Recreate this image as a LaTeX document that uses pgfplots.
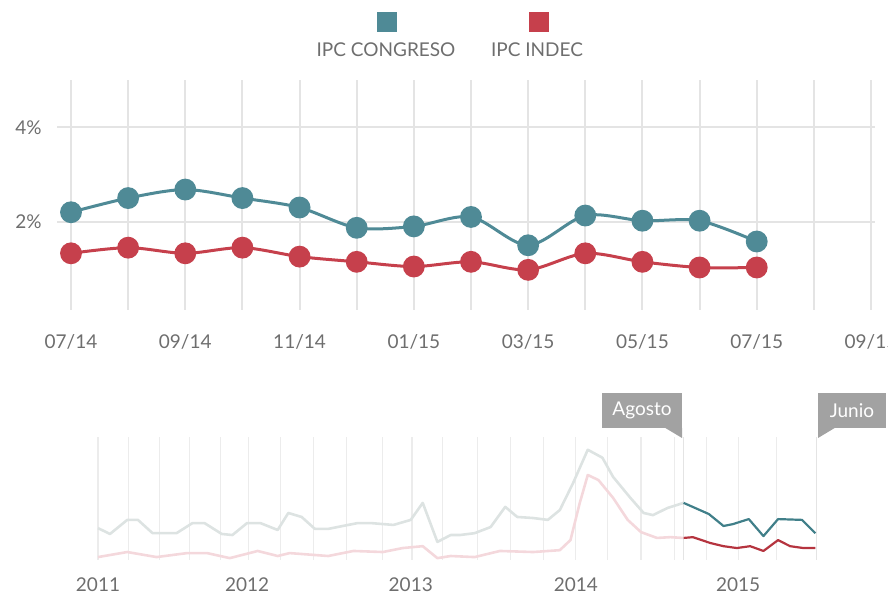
\documentclass[border=0pt]{standalone}
\usepackage{pgfplots}
\pgfplotsset{compat=1.18}
\usepackage{fontspec}
\setmainfont{Lato}
\definecolor{cteal}{HTML}{4F8A96}
\definecolor{cred}{HTML}{C6404C}
\definecolor{dteal}{HTML}{407F89}
\definecolor{dred}{HTML}{B5343F}
\definecolor{fteal}{HTML}{DDE3E2}
\definecolor{fred}{HTML}{F4D8DC}
\definecolor{gridc}{HTML}{E4E4E4}
\definecolor{ngridc}{HTML}{ECECEC}
\definecolor{txt}{HTML}{6E6E6E}
\definecolor{flagc}{HTML}{A2A2A2}
\begin{document}
\begin{tikzpicture}[x=1pt,y=1pt,font=\fontsize{9.5}{11}\selectfont]
\useasboundingbox (0pt,0pt) rectangle (444pt,299.5pt);
% legend
\fill[cteal] (188.5pt,283.5pt) rectangle (198.5pt,293.5pt);
\fill[cred] (264.5pt,283.5pt) rectangle (274.5pt,293.5pt);
\node[txt,inner sep=0pt] at (193pt,274.5pt) {IPC CONGRESO};
\node[txt,inner sep=0pt] at (268.5pt,274.5pt) {IPC INDEC};
% main chart
\begin{axis}[at={(28.5pt,144.5pt)}, anchor=south west, scale only axis,
  width=409pt, height=115pt,
  xmin=-0.245, xmax=14.07, ymin=0.13, ymax=5.0,
  axis line style={draw=none}, tick style={draw=none},
  xmajorgrids, ymajorgrids, grid style={gridc, line width=1pt},
  xtick={0,...,14},
  xticklabels={07/14,,09/14,,11/14,,01/15,,03/15,,05/15,,07/15,,09/15},
  ytick={2,4}, yticklabels={2\%,4\%},
  xticklabel style={txt, anchor=base, inner sep=0pt, yshift=-19.5pt},
  yticklabel style={txt, anchor=east, inner sep=0pt, xshift=-7.5pt},
  clip=false]
\addplot[cteal, line width=1.5pt, smooth, tension=0.5, mark=*, mark size=4.7pt,
  mark options={fill=cteal, draw=cteal}] coordinates {
  (0,2.2)(1,2.5)(2,2.68)(3,2.5)(4,2.3)(5,1.87)(6,1.9)(7,2.1)(8,1.5)(9,2.13)(10,2.02)(11,2.02)(12,1.58)};
\addplot[cred, line width=1.5pt, smooth, tension=0.5, mark=*, mark size=4.7pt,
  mark options={fill=cred, draw=cred}] coordinates {
  (0,1.33)(1,1.45)(2,1.33)(3,1.45)(4,1.26)(5,1.15)(6,1.05)(7,1.15)(8,0.98)(9,1.33)(10,1.15)(11,1.03)(12,1.03)};
\end{axis}
% navigator
\begin{axis}[at={(49pt,19.5pt)}, anchor=south west, scale only axis,
  width=360pt, height=61.5pt,
  xmin=0, xmax=54.1, ymin=0.57, ymax=5.2,
  axis line style={draw=none}, tick style={draw=none},
  xtick={0,11.2,23.5,35.9,48.1}, xticklabels={2011,2012,2013,2014,2015},
  minor xtick={0,2.3,4.6,6.9,9.2,11.3,13.7,16.2,18.7,21.4,23.6,25.9,28.5,31,33.5,35.9,38.3,40.8,43.3,45.7,48.1,51},
  xminorgrids, minor grid style={ngridc, line width=0.6pt},
  ytick=\empty,
  xticklabel style={txt, anchor=base, inner sep=0pt, yshift=-16pt},
  clip=false]
\draw[gridc, line width=0.8pt] (axis cs:44,0.57) -- (axis cs:44,5.2);
\draw[gridc, line width=0.8pt] (axis cs:54,0.57) -- (axis cs:54,5.2);
\addplot[fteal, line width=1.3pt, line join=round] coordinates {
(0,1.77)(0.9,1.55)(2.2,2.08)(3.0,2.08)(4.1,1.58)(5.9,1.58)(7.1,1.96)(8.0,1.96)(9.3,1.55)(10.1,1.51)(11.2,1.96)(12.2,1.96)(13.5,1.70)(14.3,2.34)(15.3,2.19)(16.3,1.74)(17.3,1.74)(19.5,1.96)(20.5,1.96)(22.2,1.89)(23.5,2.08)(24.4,2.72)(25.5,1.25)(26.5,1.51)(27.2,1.51)(28.3,1.58)(29.5,1.81)(30.6,2.57)(31.5,2.19)(32.7,2.15)(33.8,2.08)(34.7,2.45)(35.7,3.47)(36.8,4.72)(37.9,4.42)(38.7,3.70)(40.0,2.91)(41.0,2.34)(41.7,2.26)(42.8,2.53)(44.0,2.72)};
\addplot[fred, line width=1.3pt, line join=round] coordinates {
(0,0.68)(2.2,0.87)(4.4,0.68)(6.7,0.83)(8.2,0.83)(9.9,0.64)(12.0,0.91)(13.5,0.72)(14.4,0.83)(17.3,0.72)(19.2,0.91)(21.4,0.87)(22.9,1.02)(24.4,1.09)(25.5,0.64)(26.5,0.72)(28.3,0.68)(30.2,0.91)(32.7,0.87)(34.7,0.94)(35.5,1.32)(36.2,2.72)(36.8,3.77)(37.6,3.58)(38.7,2.91)(39.8,2.08)(40.8,1.62)(42.0,1.40)(43.0,1.43)(44.0,1.40)};
\addplot[dteal, line width=1.1pt, line join=round] coordinates {
(44.0,2.72)(45.9,2.30)(47.0,1.85)(47.7,1.92)(48.9,2.11)(50.0,1.47)(51.1,2.11)(52.9,2.08)(53.9,1.58)};
\addplot[dred, line width=1.1pt, line join=round] coordinates {
(44.0,1.40)(44.7,1.43)(46.0,1.21)(47.0,1.09)(48.0,1.02)(49.0,1.09)(50.0,0.91)(51.1,1.32)(52.0,1.09)(53.0,1.02)(53.9,1.02)};
\end{axis}
% flags
\fill[flagc] (301pt,85.5pt) rectangle (341pt,103pt);
\fill[flagc] (332.5pt,85.6pt) -- (341pt,85.6pt) -- (341pt,80.5pt) -- cycle;
\node[white, inner sep=0pt] at (321pt,94.25pt) {Agosto};
\fill[flagc] (409pt,85.5pt) rectangle (443pt,103pt);
\fill[flagc] (409pt,85.6pt) -- (417.5pt,85.6pt) -- (409pt,80.5pt) -- cycle;
\node[white, inner sep=0pt] at (426pt,94.25pt) {Junio};
\end{tikzpicture}
\end{document}
